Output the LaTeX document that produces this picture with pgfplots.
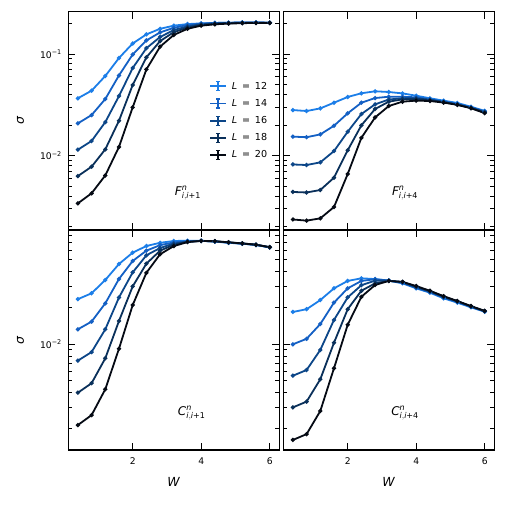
\documentclass[border=0pt]{standalone}
\usepackage{fontspec}
\setmainfont{DejaVu Sans}
\usepackage{amsmath}
\usepackage{pgfplots}
\usepackage{pgfplotstable}
\pgfplotsset{compat=1.18}

\definecolor{c12}{RGB}{28,126,232}
\definecolor{c14}{RGB}{20,96,196}
\definecolor{c16}{RGB}{12,70,136}
\definecolor{c18}{RGB}{10,48,90}
\definecolor{c20}{RGB}{5,10,20}

\pgfplotstableread{
W   L12     L14     L16     L18     L20
0.4 0.0367  0.0208  0.01146 0.0063  0.0034
0.8 0.0436  0.0251  0.01396 0.0078  0.00427
1.2 0.0608  0.0361  0.0214  0.01155 0.0064
1.6 0.0913  0.0616  0.0386  0.0221  0.0122
2.0 0.127   0.099   0.0728  0.0496  0.0299
2.4 0.156   0.136   0.114   0.0927  0.0706
2.8 0.177   0.163   0.147   0.134   0.118
3.2 0.190   0.181   0.172   0.164   0.154
3.6 0.197   0.193   0.187   0.182   0.177
4.0 0.200   0.199   0.196   0.193   0.190
4.4 0.202   0.202   0.200   0.198   0.196
4.8 0.203   0.203   0.202   0.201   0.199
5.2 0.204   0.204   0.203   0.202   0.201
5.6 0.204   0.204   0.203   0.203   0.202
6.0 0.203   0.203   0.203   0.203   0.202
}\Fa

\pgfplotstableread{
W   L12     L14     L16     L18     L20
0.4 0.0281  0.0154  0.0082  0.0044  0.00236
0.8 0.0275  0.0152  0.0081  0.00435 0.0023
1.2 0.0292  0.0162  0.0086  0.0046  0.00242
1.6 0.0332  0.0197  0.0111  0.00608 0.00313
2.0 0.0378  0.0261  0.0172  0.0113  0.0066
2.4 0.0411  0.0332  0.0257  0.0199  0.0150
2.8 0.0430  0.0369  0.0320  0.0288  0.0238
3.2 0.0423  0.0380  0.0357  0.0340  0.0308
3.6 0.0410  0.0380  0.0367  0.0358  0.0340
4.0 0.0389  0.0375  0.0366  0.0360  0.0348
4.4 0.0367  0.0358  0.0355  0.0352  0.0345
4.8 0.0348  0.0340  0.0338  0.0336  0.0333
5.2 0.0330  0.0322  0.0320  0.0318  0.0316
5.6 0.0303  0.0298  0.0296  0.0294  0.0293
6.0 0.0276  0.0272  0.0270  0.0266  0.0262
}\Fb

\pgfplotstableread{
W   L12     L14     L16     L18     L20
0.4 0.0236  0.0133  0.00733 0.00398 0.00215
0.8 0.0264  0.0154  0.00863 0.00477 0.0026
1.2 0.0340  0.0218  0.0133  0.00766 0.00425
1.6 0.0461  0.0347  0.0244  0.0156  0.0092
2.0 0.0572  0.0488  0.0393  0.0301  0.0211
2.4 0.0649  0.0594  0.0544  0.0464  0.0390
2.8 0.0690  0.0660  0.0625  0.0594  0.0555
3.2 0.0714  0.0695  0.0680  0.0665  0.0648
3.6 0.0718  0.0710  0.0706  0.0703  0.0699
4.0 0.0718  0.0715  0.0715  0.0715  0.0715
4.4 0.0706  0.0708  0.0709  0.0710  0.0711
4.8 0.0690  0.0692  0.0694  0.0695  0.0697
5.2 0.0678  0.0679  0.0680  0.0681  0.0682
5.6 0.0663  0.0663  0.0664  0.0665  0.0666
6.0 0.0632  0.0632  0.0633  0.0634  0.0635
}\Ca

\pgfplotstableread{
W   L12     L14     L16     L18     L20
0.4 0.0185  0.0100  0.0055  0.00301 0.00162
0.8 0.0195  0.0111  0.00613 0.00336 0.00181
1.2 0.0232  0.0147  0.00898 0.00514 0.00281
1.6 0.0290  0.0221  0.0159  0.0103  0.00634
2.0 0.0334  0.0290  0.0244  0.0195  0.0145
2.4 0.0351  0.0334  0.0308  0.0277  0.0247
2.8 0.0346  0.0345  0.0336  0.0319  0.0309
3.2 0.0336  0.0336  0.0336  0.0334  0.0334
3.6 0.0319  0.0322  0.0325  0.0328  0.0328
4.0 0.0290  0.0293  0.0296  0.0300  0.0303
4.4 0.0267  0.0270  0.0273  0.0275  0.0277
4.8 0.0240  0.0243  0.0246  0.0248  0.0250
5.2 0.0221  0.0224  0.0226  0.0227  0.0228
5.6 0.0202  0.0204  0.0205  0.0206  0.0207
6.0 0.0186  0.0187  0.0188  0.0188  0.0189
}\Cb

\pgfplotsset{log number format basis/.code 2 args={#1\textsuperscript{−\pgfmathparse{int(-(#2))}\pgfmathresult}}}

\pgfplotsset{
  mypanel/.style={
    scale only axis, width=211pt,
    xmin=0.12, xmax=6.28,
    xtick={2,4,6},
    ytick={0.001,0.01,0.1,1},
    minor ytick={0.002,0.003,0.004,0.005,0.006,0.007,0.008,0.009,0.02,0.03,0.04,0.05,0.06,0.07,0.08,0.09,0.2,0.3,0.4},
    tick align=inside, xtick pos=both, ytick pos=both,
    major tick length=7pt, minor tick length=4pt,
    axis line style={line width=1.1pt},
    every tick/.style={black, line width=0.9pt},
    /pgf/number format/assume math mode=true,
    tick label style={font=\fontsize{9.2}{11}\selectfont},
    xticklabel style={yshift=-4pt},
    yticklabel style={xshift=-3pt},
    label style={font=\fontsize{12.5}{14}\selectfont},
  },
  myline/.style={line width=1.8pt, mark=*, mark size=1.1pt},
}
\tikzset{lab/.style={font=\fontsize{12}{14}\selectfont}}

\newcommand{\pl}[1]{%
  \addplot[myline, color=c12] table[x=W,y=L12]{#1};
  \addplot[myline, color=c14] table[x=W,y=L14]{#1};
  \addplot[myline, color=c16] table[x=W,y=L16]{#1};
  \addplot[myline, color=c18] table[x=W,y=L18]{#1};
  \addplot[myline, color=c20] table[x=W,y=L20]{#1};
}
\newcommand{\Leq}[1]{\textit{L}\hspace{0.5em}=\hspace{0.5em}#1}

\begin{document}
\begin{tikzpicture}
\path[use as bounding box] (0,0) rectangle (507pt,507pt);

% top-left
\begin{axis}[ymode=log, mypanel, at={(68.3pt,277pt)}, anchor=south west, height=218.3pt,
  ymin=0.00186, ymax=0.2606, xticklabels={},
  ylabel={\textit{σ}},
  ylabel style={at={(axis description cs:-0.226,0.5)}, anchor=center},
  legend style={draw=none, fill=none, at={(0.948,0.5007)}, anchor=east,
    font=\fontsize{9.6}{11}\selectfont, inner sep=0pt, row sep=6.6pt, column sep=4pt,
    nodes={inner sep=1pt}},
  legend cell align=left,
  legend image code/.code={%
    \draw[#1, mark=none, line width=1.8pt] (0pt,0pt) -- (16pt,0pt);
    \draw[#1, mark=none, line width=1.6pt] (8pt,-4.5pt) -- (8pt,4.5pt);
    \draw[#1, mark=none, line width=1.3pt] (6pt,-4.5pt) -- (10pt,-4.5pt) (6pt,4.5pt) -- (10pt,4.5pt);
  },
]
\pl{\Fa}
\legend{\Leq{12}, \Leq{14}, \Leq{16}, \Leq{18}, \Leq{20}}
\node[lab] at (rel axis cs:0.567,0.169) {$\text{\itshape F}^{\text{\itshape n}}_{\text{\itshape i},\text{\itshape i}\text{+1}}$};
\end{axis}

% top-right
\begin{axis}[ymode=log, mypanel, at={(283.3pt,277pt)}, anchor=south west, height=218.3pt,
  ymin=0.00186, ymax=0.2606, xticklabels={}, yticklabels={}]
\pl{\Fb}
\node[lab] at (rel axis cs:0.577,0.169) {$\text{\itshape F}^{\text{\itshape n}}_{\text{\itshape i},\text{\itshape i}\text{+4}}$};
\end{axis}

% bottom-left
\begin{axis}[ymode=log, mypanel, at={(68.3pt,57pt)}, anchor=south west, height=220pt,
  ymin=0.001338, ymax=0.0880,
  xlabel={\textit{W}},
  xlabel style={at={(axis description cs:0.5,-0.144)}, anchor=center},
  ylabel={\textit{σ}},
  ylabel style={at={(axis description cs:-0.226,0.5)}, anchor=center}]
\pl{\Ca}
\node[lab] at (rel axis cs:0.585,0.168) {$\text{\itshape C}^{\text{\itshape n}}_{\text{\itshape i},\text{\itshape i}\text{+1}}$};
\end{axis}

% bottom-right
\begin{axis}[ymode=log, mypanel, at={(283.3pt,57pt)}, anchor=south west, height=220pt,
  ymin=0.001338, ymax=0.0880, yticklabels={},
  xlabel={\textit{W}},
  xlabel style={at={(axis description cs:0.5,-0.144)}, anchor=center}]
\pl{\Cb}
\node[lab] at (rel axis cs:0.577,0.168) {$\text{\itshape C}^{\text{\itshape n}}_{\text{\itshape i},\text{\itshape i}\text{+4}}$};
\end{axis}
\end{tikzpicture}
\end{document}
